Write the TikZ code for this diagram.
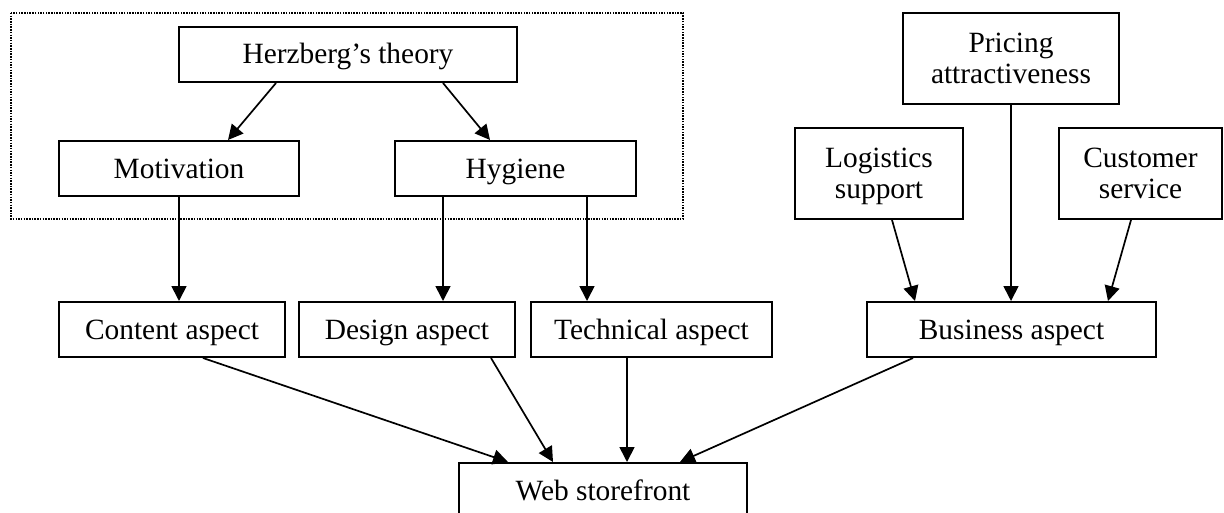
\documentclass[tikz,border=0pt]{standalone}
\usepackage{fontspec}
\setmainfont{Liberation Serif}
\usetikzlibrary{arrows.meta,calc}
\begin{document}
\begin{tikzpicture}[x=0.5pt,y=-0.5pt,
  box/.style={draw,line width=1pt,inner sep=0pt,align=center,
    font=\fontsize{14.7}{15.5}\selectfont},
  onerow/.style={box,minimum height=27.5pt,text height=11pt,text depth=1.5pt},
  tworow/.style={box,minimum height=45.5pt,text height=26.5pt,text depth=1.5pt},
  link/.style={line width=0.85pt,-{Triangle[length=7.5pt,width=7.5pt]}},
  frame/.style={line width=0.75pt,dash pattern=on 0.75pt off 0.6pt}]
\useasboundingbox (0,0) rectangle (1224,513);
\clip (0,0) rectangle (1224,513);

% group frame around the theory part
\draw[frame] (11,13) rectangle (683,219);

% theory
\node[onerow,minimum width=169pt] (herz) at (348,54.5) {Herzberg’s theory};
\node[onerow,minimum width=120pt] (motiv) at (179,168.5) {Motivation};
\node[onerow,minimum width=120.5pt] (hyg) at (515.5,168.5) {Hygiene};

% business factors
\node[tworow,minimum width=108pt] (pricing) at (1011,58.5) {Pricing\\attractiveness};
\node[tworow,minimum width=84pt] (logist) at (879,173.5) {Logistics\\support};
\node[tworow,minimum width=81.5pt] (cust) at (1140.5,173.5) {Customer\\service};

% aspects
\node[onerow,minimum width=113pt] (content) at (172,329.5) {Content aspect};
\node[onerow,minimum width=108pt] (design) at (407,329.5) {Design aspect};
\node[onerow,minimum width=120.5pt] (tech) at (651.5,329.5) {Technical aspect};
\node[onerow,minimum width=144.5pt] (business) at (1011.5,329.5) {Business aspect};

% result
\node[onerow,minimum width=144pt] (web) at (603,490.5) {Web storefront};

% connectors
\draw[link] ($(herz.south)+(-72,0)$) -- ($(motiv.north)+(49,0)$);
\draw[link] ($(herz.south)+(95,0)$) -- ($(hyg.north)+(-25.5,0)$);

\draw[link] (motiv.south) -- (motiv.south |- content.north);
\coordinate (hygA) at ($(hyg.south)+(-72.5,0)$);
\coordinate (hygB) at ($(hyg.south)+(71.5,0)$);
\draw[link] (hygA) -- (hygA |- design.north);
\draw[link] (hygB) -- (hygB |- tech.north);

\draw[link] (pricing.south) -- (pricing.south |- business.north);
\draw[link] ($(logist.south)+(13,0)$) -- ($(business.north)+(-96.5,0)$);
\draw[link] ($(cust.south)+(-9.5,0)$) -- ($(business.north)+(96.5,0)$);

\draw[link] ($(content.south)+(31,0)$) -- ($(web.north)+(-95,0)$);
\draw[link] ($(design.south)+(84,0)$) -- ($(web.north)+(-50,0)$);
\coordinate (techA) at ($(tech.south)+(-24.5,0)$);
\draw[link] (techA) -- (techA |- web.north);
\draw[link] ($(business.south)+(-98.5,0)$) -- ($(web.north)+(77,0)$);
\end{tikzpicture}
\end{document}
